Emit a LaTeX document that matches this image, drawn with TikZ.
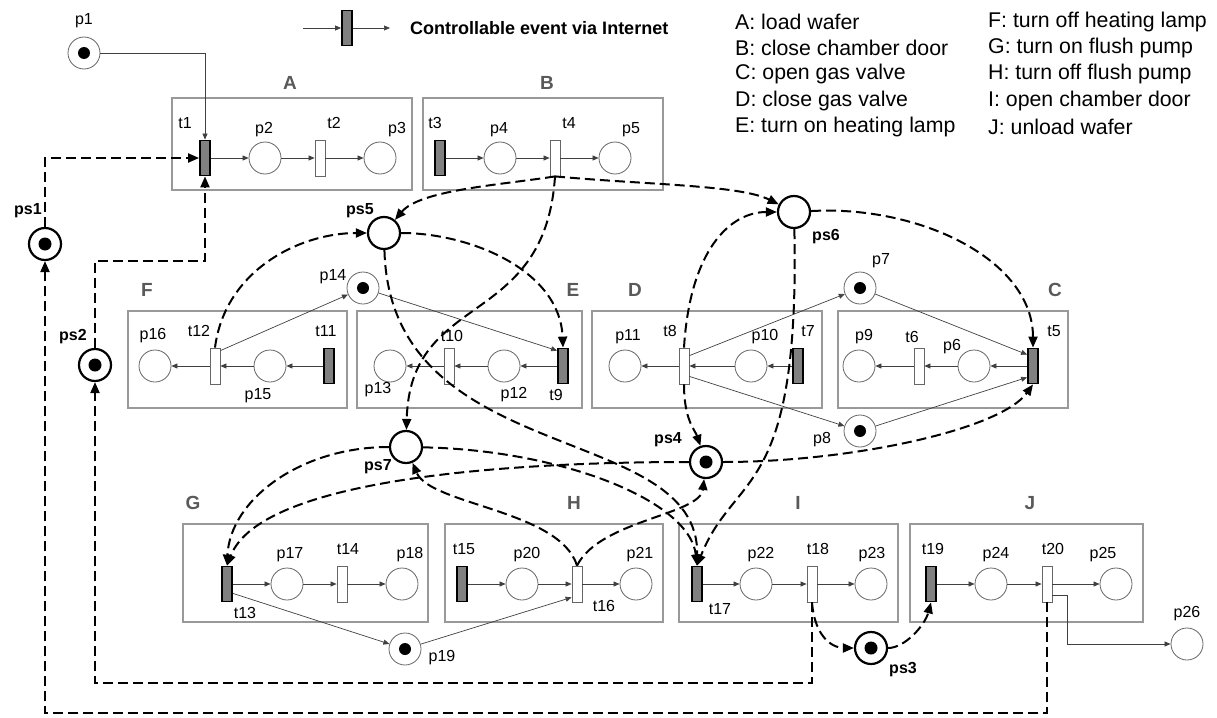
\documentclass[tikz,border=0pt]{standalone}
\usepackage{fontspec}
\setmainfont{Liberation Sans}
\usetikzlibrary{arrows.meta}

\tikzset{
  place/.style={circle, draw=black!60, line width=0.8pt, minimum size=32pt, inner sep=0pt, fill=white},
  splace/.style={place, draw=black, line width=2.2pt},
  ctrans/.style={rectangle, draw=black, fill=black!50, line width=1.8pt, minimum width=10pt, minimum height=35pt, inner sep=0pt},
  utrans/.style={rectangle, draw=black!60, fill=white, line width=0.8pt, minimum width=10pt, minimum height=36pt, inner sep=0pt},
  arc/.style={draw=black!75, line width=0.7pt, -{Triangle[length=6pt,width=5pt]}},
  sarc/.style={line width=2pt, dash pattern=on 10pt off 5pt, -{Triangle[length=11pt,width=9pt]}},
  grp/.style={draw=black!40, line width=1.2pt},
  lbl/.style={font=\fontsize{16}{18}\selectfont, inner sep=0pt},
  slbl/.style={font=\fontsize{16}{18}\selectfont\bfseries, inner sep=0pt},
  grplbl/.style={font=\fontsize{19}{21}\selectfont\bfseries, text=black!65, inner sep=0pt},
  keytext/.style={font=\fontsize{21.3}{24}\selectfont, anchor=west, inner sep=0pt}
}

\begin{document}
\begin{tikzpicture}[x=1pt, y=-1pt]
\useasboundingbox (0,0) rectangle (1217,717);

% groups
\foreach \a/\b/\c/\d in {172/98/412/190, 423/98/663/190,
    128/311/347/408, 357/311/582/408, 592/311/822/408, 838/311/1068/408,
    183/524/428/622, 445/524/663/622, 679/524/898/622, 910/524/1143/622}
  \draw[grp] (\a,\b) rectangle (\c,\d);
\foreach \g/\x/\y in {A/290/83, B/547/83, F/147/290, E/573/290, D/635/290,
    C/1055/290, G/193/503, H/574/503, I/798/503, J/1030/503}
  \node[grplbl] (g\g) at (\x,\y) {\g};

% places
\foreach \n/\x/\y in {p2/265/158, p3/380/158, p4/500/158, p5/615/158,
    p16/155/366, p15/270/366, p13/390/366, p12/504/366, p11/625/366,
    p10/751/366, p9/859/366, p6/974/366,
    p17/287/584, p18/402/584, p20/522/584, p21/636/584, p22/756/584,
    p23/871/584, p24/991/584, p25/1116/584, p26/1187/644}
  \node[place] (\n) at (\x,\y) {};
\foreach \n/\x/\y in {p1/84/53, p14/363/288, p7/860/288, p8/860/431, p19/405/649} {
  \node[place] (\n) at (\x,\y) {};
  \fill (\n.center) circle (6pt);
}
\foreach \n/\x/\y in {ps5/384/233, ps6/794/212, ps7/406/447}
  \node[splace] (\n) at (\x,\y) {};
\foreach \n/\x/\y in {ps1/45/244, ps2/95/365, ps3/871/648, ps4/706/462} {
  \node[splace] (\n) at (\x,\y) {};
  \fill (\n.center) circle (6.5pt);
}

% transitions
\foreach \n/\x/\y in {t1/205/158, t3/440/158, t5/1033/366, t7/798/366,
    t9/563/366, t11/329/366, t13/227/584, t15/462/584, t17/697/584, t19/931/584}
  \node[ctrans] (\n) at (\x,\y) {};
\foreach \n/\x/\y in {t2/320/158, t4/555/158, t6/919/366, t8/684/366,
    t10/449/366, t12/215/366, t14/342/584, t16/577/584, t18/812/584, t20/1047/584}
  \node[utrans] (\n) at (\x,\y) {};

% labels
\foreach \t/\x/\y in {p1/84/21, t1/185/123, p2/264/130, t2/334/123, p3/397/130,
    t3/435/123, p4/499/130, t4/569/123, p5/631/130,
    p14/333/277, p16/153/336, t12/199/331, t11/326/331, p15/258/396,
    p13/378/390, t10/452/336, p12/514/395, t9/556/395,
    p11/628/337, t8/670/331, p10/765/337, t7/808/331, p7/881/261,
    p8/822/440, p9/864/337, t6/912/337, p6/952/347, t5/1054/331,
    t13/245/613, p17/290/555, t14/348/549, p18/410/555, p19/442/658,
    t15/464/549, p20/527/555, t16/604/606, p21/640/555, t17/720/609,
    p22/761/555, t18/818/549, p23/872/555, t19/933/549, p24/996/555,
    t20/1053/549, p25/1103/555, p26/1187/614}
  \node[lbl] (l\t) at (\x,\y) {\t};
\foreach \t/\x/\y in {ps1/28/211, ps2/73/337, ps3/903/670, ps4/668/440,
    ps5/360/211, ps6/826/237, ps7/378/467}
  \node[slbl] (l\t) at (\x,\y) {\t};

% key
\coordinate (keyin) at (303,28);
\coordinate (keyout) at (390,28);
\node[ctrans] (keyt) at (347,28) {};
\draw[arc] (keyin) -- (keyt);
\draw[arc] (keyt) -- (keyout);
\node[font=\fontsize{18}{20}\selectfont\bfseries, anchor=west, inner sep=0pt] (keytxt) at (410,28) {Controllable event via Internet};
\foreach \s [count=\i] in {A: load wafer, B: close chamber door, C: open gas valve,
    D: close gas valve, E: turn on heating lamp}
  \node[keytext] (kl\i) at (735,{22+26.2*(\i-1)}) {\s};
\foreach \s [count=\i] in {F: turn off heating lamp, G: turn on flush pump,
    H: turn off flush pump, I: open chamber door, J: unload wafer}
  \node[keytext] (kr\i) at (988,{22+26.2*(\i-1)}) {\s};

% ordinary arcs
\draw[arc] (p1) -| (t1);
\foreach \a/\b in {t1/p2, p2/t2, t2/p3, t3/p4, p4/t4, t4/p5,
    t5/p6, p6/t6, t6/p9, t7/p10, p10/t8, t8/p11, t9/p12, p12/t10, t10/p13,
    t11/p15, p15/t12, t12/p16, t13/p17, p17/t14, t14/p18, t15/p20, p20/t16,
    t16/p21, t17/p22, p22/t18, t18/p23, t19/p24, p24/t20, t20/p25}
  \draw[arc] (\a) -- (\b);
\draw[arc] ([yshift=-3pt]t12.north east) -- (p14);
\draw[arc] (p14) -- ([yshift=-3pt]t9.north west);
\draw[arc] ([yshift=-8pt]t8.north east) -- (p7);
\draw[arc] ([yshift=8pt]t8.south east) -- (p8);
\draw[arc] (p7) -- ([yshift=-7pt]t5.north west);
\draw[arc] (p8) -- ([yshift=7pt]t5.south west);
\draw[arc] ([yshift=9pt]t13.south east) -- (p19);
\draw[arc] (p19) -- ([yshift=5pt]t16.south west);
\draw[arc] ([yshift=-11pt]t20.east) -- ++(15,0) |- (p26);

% control arcs via Internet
\draw[sarc] (ps1) |- (t1);
\draw[sarc] (ps2.north) -- ++(0,-87) -| (t1.south);
\draw[sarc] (t20.south) -- ++(0,111) -| (ps1);
\draw[sarc] (t18.south) -- ++(0,81) -| (ps2);
\draw[sarc] (t18.south) .. controls (815,640) and (835,648) .. (ps3);
\draw[sarc] (ps3) .. controls (905,648) and (925,625) .. (t19.south);
\draw[sarc] (t4.south) .. controls (500,185) and (420,190) .. (ps5);
\draw[sarc] (t4.south) .. controls (650,185) and (740,185) .. (ps6);
\draw[sarc] (t4.south) .. controls (545,330) and (410,290) .. (ps7);
\draw[sarc] (t8.north) .. controls (690,250) and (730,212) .. (ps6);
\draw[sarc] (ps6) .. controls (920,205) and (1033,260) .. (t5.north);
\draw[sarc] (ps6) .. controls (800,500) and (735,470) .. (t17.north);
\draw[sarc] (t8.south) .. controls (684,420) and (695,430) .. (ps4);
\draw[sarc] (ps4) .. controls (500,462) and (260,480) .. (t13.north);
\draw[sarc] (ps7) .. controls (300,447) and (230,500) .. (t13.north);
\draw[sarc] (t16.north) .. controls (560,510) and (430,505) .. (ps7);
\draw[sarc] (t16.north) .. controls (600,520) and (700,515) .. (ps4);
\draw[sarc] (ps4) .. controls (850,462) and (1000,430) .. (t5.south);
\draw[sarc] (ps5) .. controls (470,233) and (560,270) .. (t9.north);
\draw[sarc] (t12.north) .. controls (225,270) and (300,233) .. (ps5);
\draw[sarc] (ps5) .. controls (390,470) and (700,420) .. (t17.north);
\draw[sarc] (ps7) .. controls (560,450) and (690,500) .. (t17.north);
\end{tikzpicture}
\end{document}
